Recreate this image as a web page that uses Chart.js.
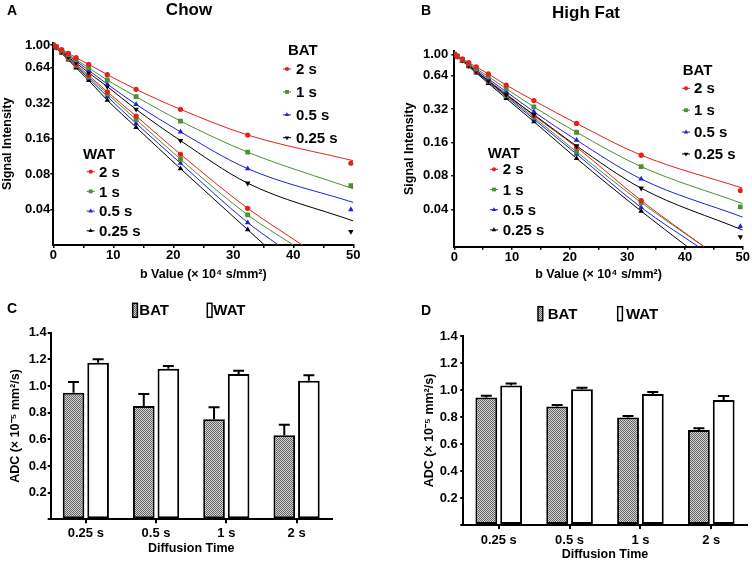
<!DOCTYPE html>
<html>
<head>
<meta charset="utf-8">
<title>Diffusion decay and ADC</title>
<script src="https://cdn.jsdelivr.net/npm/chart.js@4.4.1/dist/chart.umd.min.js"></script>
<style>
  body { margin: 0; background: #fff; }
  #wrap { position: relative; width: 752px; height: 562px; }
  .panel { position: absolute; }
</style>
</head>
<body>
<div id="wrap">
  <div class="panel" style="left:0;top:0;width:376px;height:290px"><canvas id="chartA"></canvas></div>
  <div class="panel" style="left:376px;top:0;width:376px;height:290px"><canvas id="chartB"></canvas></div>
  <div class="panel" style="left:0;top:290px;width:376px;height:272px"><canvas id="chartC"></canvas></div>
  <div class="panel" style="left:376px;top:290px;width:376px;height:272px"><canvas id="chartD"></canvas></div>
</div>
<script>
// ---- data ----
// b values (x 10^4 s/mm^2)
const bValues = [0, 0.5, 1.4, 2.5, 3.8, 5.9, 9.0, 13.8, 21.2, 32.4, 49.6];
const timeLabels = ['2 s', '1 s', '0.5 s', '0.25 s'];
const signalTicks = [0.04, 0.08, 0.16, 0.32, 0.64, 1.00];

// Chow, signal intensity
const chowBat2 = [1.00, 0.97, 0.915, 0.85, 0.78, 0.685, 0.56, 0.42, 0.284, 0.172, 0.099];
const chowBat1 = [1.00, 0.965, 0.90, 0.83, 0.75, 0.64, 0.504, 0.364, 0.226, 0.123, 0.064];
const chowBat05 = [1.00, 0.96, 0.89, 0.81, 0.73, 0.61, 0.465, 0.313, 0.183, 0.089, 0.040];
const chowBat025 = [1.00, 0.955, 0.88, 0.79, 0.705, 0.58, 0.443, 0.284, 0.154, 0.067, 0.026];
const chowWat2 = [1.00, 0.95, 0.868, 0.777, 0.682, 0.552, 0.40, 0.249, 0.118, 0.041, null];
const chowWat1 = [1.00, 0.95, 0.863, 0.768, 0.67, 0.536, 0.385, 0.233, 0.107, 0.036, null];
const chowWat05 = [1.00, 0.946, 0.856, 0.758, 0.656, 0.52, 0.365, 0.216, 0.099, 0.031, null];
const chowWat025 = [1.00, 0.94, 0.85, 0.746, 0.64, 0.50, 0.34, 0.20, 0.089, 0.027, null];
const chowBatFitEnd = [0.104, 0.060, 0.046, 0.032]; // fitted curve at b = 50
const chowWatFitEndB = [41.5, 40.0, 37.5, 35.2];   // b where fitted curve leaves the plot

// High fat, signal intensity
const hfBat2 = [1.00, 0.97, 0.91, 0.84, 0.77, 0.665, 0.528, 0.382, 0.238, 0.123, 0.059];
const hfBat1 = [1.00, 0.96, 0.90, 0.82, 0.74, 0.63, 0.49, 0.335, 0.198, 0.097, 0.042];
const hfBat05 = [1.00, 0.96, 0.89, 0.81, 0.72, 0.60, 0.46, 0.303, 0.168, 0.075, 0.028];
const hfBat025 = [1.00, 0.95, 0.88, 0.79, 0.70, 0.575, 0.43, 0.285, 0.149, 0.062, 0.0226];
const hfWat2 = [1.00, 0.955, 0.88, 0.79, 0.70, 0.58, 0.44, 0.28, 0.145, 0.048, null];
const hfWat1 = [1.00, 0.955, 0.875, 0.79, 0.70, 0.57, 0.425, 0.27, 0.132, 0.046, null];
const hfWat05 = [1.00, 0.95, 0.87, 0.78, 0.69, 0.56, 0.415, 0.26, 0.126, 0.0415, null];
const hfWat025 = [1.00, 0.95, 0.87, 0.775, 0.68, 0.547, 0.40, 0.247, 0.115, 0.0385, null];
const hfBatFitEnd = [0.062, 0.045, 0.034, 0.026];
const hfWatFitEndB = [43.3, 43.3, 42.3, 40.4];

// ADC (x 10^-5 mm^2/s)
const diffTimes = ['0.25 s', '0.5 s', '1 s', '2 s'];
const chowBatAdc = [0.95, 0.85, 0.75, 0.63];
const chowBatErr = [0.08, 0.09, 0.09, 0.08];
const chowWatAdc = [1.175, 1.13, 1.09, 1.04];
const chowWatErr = [0.025, 0.02, 0.025, 0.04];
const hfBatAdc = [0.945, 0.877, 0.796, 0.704];
const hfBatErr = [0.012, 0.012, 0.012, 0.013];
const hfWatAdc = [1.034, 1.005, 0.970, 0.926];
const hfWatErr = [0.014, 0.012, 0.015, 0.030];

// ---- styles ----
const FONT = 'Arial, "Liberation Sans", Helvetica, sans-serif';
Chart.defaults.font.family = FONT;
Chart.defaults.color = '#000';
const tickFont = { family: FONT, size: 13, weight: 'bold' };
const axisFont = { family: FONT, size: 12.5, weight: 'bold' };

const timeStyles = [
  { color: '#e3201b', style: 'circle', radius: 2.6 },
  { color: '#4b9133', style: 'rect', radius: 3.4 },
  { color: '#1d22d6', style: 'triangle', radius: 3.2 },
  { color: '#000000', style: 'triangle', radius: 3.2 }
];

function makePattern() {
  const c = document.createElement('canvas');
  c.width = 2; c.height = 2;
  const g = c.getContext('2d');
  g.fillStyle = '#d2d2d2'; g.fillRect(0, 0, 2, 2);
  g.fillStyle = '#666666'; g.fillRect(0, 0, 1, 1); g.fillRect(1, 1, 1, 1);
  return g.createPattern(c, 'repeat');
}
const batFill = makePattern();

// ---- plugins ----
const panelText = {
  id: 'panelText',
  afterDraw(chart, args, opts) {
    const ctx = chart.ctx;
    (opts.items || []).forEach(t => {
      ctx.save();
      ctx.font = t.font;
      ctx.fillStyle = '#000';
      ctx.textAlign = t.align || 'left';
      ctx.textBaseline = 'alphabetic';
      ctx.fillText(t.text, t.x, t.y);
      ctx.restore();
    });
  }
};

const panelLegend = {
  id: 'panelLegend',
  afterDraw(chart, args, opts) {
    const ctx = chart.ctx;
    const ds = chart.data.datasets;
    (opts.groups || []).forEach(g => {
      ctx.save();
      ctx.fillStyle = '#000';
      ctx.font = 'bold 15px ' + FONT;
      ctx.textBaseline = 'alphabetic';
      ctx.fillText(g.title, g.titleX, g.titleY);
      g.items.forEach((idx, k) => {
        const d = ds[idx];
        const y = g.y0 + k * g.gap;
        ctx.strokeStyle = d.borderColor;
        ctx.lineWidth = 1;
        ctx.beginPath();
        ctx.moveTo(g.markX - 4, y); ctx.lineTo(g.markX + 4, y);
        ctx.stroke();
        ctx.fillStyle = d.pointBackgroundColor;
        Chart.helpers.drawPoint(ctx, {
          pointStyle: d.pointStyle, radius: d.pointRadius * 0.8,
          rotation: d.pointRotation || 0, borderWidth: 0
        }, g.markX, y);
        ctx.fillStyle = '#000';
        ctx.font = 'bold 15px ' + FONT;
        ctx.textBaseline = 'middle';
        ctx.fillText(d.label, g.textX, y + 1);
      });
      ctx.restore();
    });
    (opts.boxes || []).forEach(b => {
      const d = ds[b.index];
      ctx.save();
      ctx.fillStyle = d.backgroundColor;
      ctx.fillRect(b.x, b.y, b.w, b.h);
      ctx.strokeStyle = '#000';
      ctx.lineWidth = 1.5;
      ctx.strokeRect(b.x, b.y, b.w, b.h);
      ctx.fillStyle = '#000';
      ctx.font = 'bold 15px ' + FONT;
      ctx.textBaseline = 'middle';
      ctx.fillText(d.label, b.textX, b.y + b.h / 2 + 1);
      ctx.restore();
    });
  }
};

const errorBars = {
  id: 'errorBars',
  afterDatasetsDraw(chart) {
    const ctx = chart.ctx;
    const yScale = chart.scales.y;
    chart.data.datasets.forEach((d, i) => {
      if (!d.errors) return;
      chart.getDatasetMeta(i).data.forEach((bar, j) => {
        const top = yScale.getPixelForValue(d.data[j] + d.errors[j]);
        ctx.save();
        ctx.strokeStyle = '#000';
        ctx.lineWidth = 2;
        ctx.beginPath();
        ctx.moveTo(bar.x, bar.y); ctx.lineTo(bar.x, top);
        ctx.moveTo(bar.x - 5.5, top); ctx.lineTo(bar.x + 5.5, top);
        ctx.stroke();
        ctx.restore();
      });
    });
  }
};

// ---- signal decay panels ----
function decayChart(id, batSeries, watSeries, batFitEnd, watFitEndB, cfg) {
  const markers = [];
  const lines = [];
  const groupIdx = { BAT: [], WAT: [] };
  [['BAT', batSeries], ['WAT', watSeries]].forEach(([grp, list]) => {
    list.forEach((vals, k) => {
      const st = timeStyles[k];
      const pts = [];
      vals.forEach((v, i) => { if (v !== null) pts.push({ x: bValues[i], y: v }); });
      groupIdx[grp].push(markers.length);
      markers.push({
        label: timeLabels[k],
        data: pts,
        showLine: false,
        pointStyle: st.style,
        pointRadius: st.radius,
        pointRotation: (grp === 'BAT' && k === 3) ? 180 : 0,
        pointBackgroundColor: st.color,
        pointBorderColor: st.color,
        pointBorderWidth: 0,
        borderColor: st.color
      });
      let fit;
      if (grp === 'BAT') {
        fit = pts.slice(0, -1).concat([{ x: 50, y: batFitEnd[k] }]);
      } else {
        fit = pts.concat([{ x: watFitEndB[k], y: cfg.yMin }]);
      }
      lines.push({
        label: '',
        data: fit,
        showLine: true,
        pointRadius: 0,
        borderColor: st.color,
        borderWidth: 1,
        cubicInterpolationMode: 'monotone'
      });
    });
  });

  return new Chart(document.getElementById(id), {
    type: 'scatter',
    data: { datasets: markers.concat(lines) },
    plugins: [panelText, panelLegend],
    options: {
      responsive: true,
      maintainAspectRatio: false,
      animation: false,
      layout: { padding: cfg.padding },
      plugins: {
        legend: { display: false },
        tooltip: { enabled: false },
        panelText: { items: cfg.text },
        panelLegend: {
          groups: [
            Object.assign({ title: 'BAT', items: groupIdx.BAT }, cfg.batLegend),
            Object.assign({ title: 'WAT', items: groupIdx.WAT }, cfg.watLegend)
          ]
        }
      },
      scales: {
        x: {
          type: 'linear', min: 0, max: 50,
          afterFit: s => { s.height = cfg.xHeight; },
          ticks: {
            stepSize: 5, autoSkip: false, maxRotation: 0, padding: 0,
            font: tickFont,
            callback: v => (v % 10 === 0 ? v : '')
          },
          grid: { drawOnChartArea: false, drawTicks: true, tickLength: 3, color: '#000', lineWidth: 1.5 },
          border: { color: '#000', width: 2 },
          title: {
            display: true, text: 'b Value (× 10⁴ s/mm²)', font: axisFont,
            padding: { top: 0, bottom: cfg.xTitlePad }
          }
        },
        y: {
          type: 'logarithmic', min: cfg.yMin, max: cfg.yMax,
          afterFit: s => { s.width = cfg.yWidth; },
          afterBuildTicks: s => { s.ticks = signalTicks.map(v => ({ value: v })); },
          ticks: { font: tickFont, padding: cfg.yTickPad, callback: v => Number(v).toFixed(2) },
          grid: { drawOnChartArea: false, drawTicks: true, tickLength: 3, color: '#000', lineWidth: 1.5 },
          border: { color: '#000', width: 2 },
          title: {
            display: true, text: 'Signal Intensity', font: axisFont,
            padding: { top: cfg.yTitlePad, bottom: 0 }
          }
        }
      }
    }
  });
}

decayChart('chartA',
  [chowBat2, chowBat1, chowBat05, chowBat025],
  [chowWat2, chowWat1, chowWat05, chowWat025],
  chowBatFitEnd, chowWatFitEndB, {
    yMin: 0.02, yMax: 1.05,
    padding: { top: 42.5, right: 22.7, bottom: 0, left: 0 },
    yWidth: 53.3, xHeight: 45, xTitlePad: 7.8, yTitlePad: 0, yTickPad: 0,
    text: [
      { text: 'A', x: 7, y: 15, font: 'bold 14px ' + FONT },
      { text: 'Chow', x: 189, y: 15, align: 'center', font: 'bold 17px ' + FONT }
    ],
    batLegend: { titleX: 288, titleY: 55, markX: 287, textX: 296, y0: 69, gap: 22.9 },
    watLegend: { titleX: 83, titleY: 159, markX: 90.7, textX: 99, y0: 171.7, gap: 19.7 }
  });

decayChart('chartB',
  [hfBat2, hfBat1, hfBat05, hfBat025],
  [hfWat2, hfWat1, hfWat05, hfWat025],
  hfBatFitEnd, hfWatFitEndB, {
    yMin: 0.0184, yMax: 1.07,
    padding: { top: 51, right: 9.3, bottom: 0, left: 25 },
    yWidth: 53.3, xHeight: 43.3, xTitlePad: 7.8, yTitlePad: 0.8, yTickPad: 3,
    text: [
      { text: 'B', x: 45, y: 15, font: 'bold 14px ' + FONT },
      { text: 'High Fat', x: 210, y: 18, align: 'center', font: 'bold 17px ' + FONT }
    ],
    batLegend: { titleX: 306.7, titleY: 75, markX: 310, textX: 318, y0: 88.3, gap: 21.9 },
    watLegend: { titleX: 111.7, titleY: 158.3, markX: 118, textX: 126.7, y0: 169.3, gap: 20.2 }
  });

// ---- ADC bar panels ----
function adcChart(id, batAdc, batErr, watAdc, watErr, cfg) {
  return new Chart(document.getElementById(id), {
    type: 'bar',
    data: {
      labels: diffTimes,
      datasets: [
        { label: 'BAT', data: batAdc, errors: batErr, backgroundColor: batFill,
          borderColor: '#000', borderWidth: 2, borderSkipped: false },
        { label: 'WAT', data: watAdc, errors: watErr, backgroundColor: '#ffffff',
          borderColor: '#000', borderWidth: 2, borderSkipped: false }
      ]
    },
    plugins: [panelText, panelLegend, errorBars],
    options: {
      responsive: true,
      maintainAspectRatio: false,
      animation: false,
      layout: { padding: cfg.padding },
      datasets: { bar: { categoryPercentage: 0.7, barPercentage: 0.88 } },
      plugins: {
        legend: { display: false },
        tooltip: { enabled: false },
        panelText: { items: cfg.text },
        panelLegend: { boxes: cfg.boxes }
      },
      scales: {
        x: {
          afterFit: s => { s.height = cfg.xHeight; },
          ticks: { font: tickFont, padding: cfg.xTickPad, maxRotation: 0 },
          grid: { offset: false, drawOnChartArea: false, drawTicks: true, tickLength: 4, color: '#000', lineWidth: 2 },
          border: { color: '#000', width: 2 },
          title: {
            display: true, text: 'Diffusion Time', font: axisFont,
            padding: { top: 0, bottom: cfg.xTitlePad }
          }
        },
        y: {
          min: 0, max: 1.4,
          afterFit: s => { s.width = cfg.yWidth; },
          ticks: { stepSize: 0.2, font: tickFont, padding: cfg.yTickPad,
            callback: v => (v === 0 ? '' : v.toFixed(1)) },
          grid: { drawOnChartArea: false, drawTicks: true, tickLength: 3, color: '#000', lineWidth: 2 },
          border: { color: '#000', width: 2 },
          title: {
            display: true, text: 'ADC (× 10⁻⁵ mm²/s)', font: axisFont,
            padding: { top: cfg.yTitlePad, bottom: 0 }
          }
        }
      }
    }
  });
}

adcChart('chartC', chowBatAdc, chowBatErr, chowWatAdc, chowWatErr, {
  padding: { top: 42.7, right: 44.3, bottom: 0, left: 0 },
  yWidth: 50.7, xHeight: 42.7, xTickPad: 2.2, xTitlePad: 5.5, yTitlePad: 7.8, yTickPad: 1,
  text: [{ text: 'C', x: 7, y: 23, font: 'bold 14px ' + FONT }],
  boxes: [
    { index: 0, x: 132.7, y: 13.3, w: 4.7, h: 14, textX: 139.3 },
    { index: 1, x: 207.3, y: 13.3, w: 4.7, h: 14, textX: 213.3 }
  ]
});

adcChart('chartD', hfBatAdc, hfBatErr, hfWatAdc, hfWatErr, {
  padding: { top: 46, right: 5.3, bottom: 0, left: 36 },
  yWidth: 51.3, xHeight: 37, xTickPad: 3.2, xTitlePad: 0, yTitlePad: 10.1, yTickPad: 2.6,
  text: [{ text: 'D', x: 45, y: 25, font: 'bold 14px ' + FONT }],
  boxes: [
    { index: 0, x: 162, y: 16.7, w: 4.7, h: 14, textX: 171.7 },
    { index: 1, x: 241.7, y: 16.7, w: 4.7, h: 14, textX: 250 }
  ]
});
</script>
</body>
</html>
